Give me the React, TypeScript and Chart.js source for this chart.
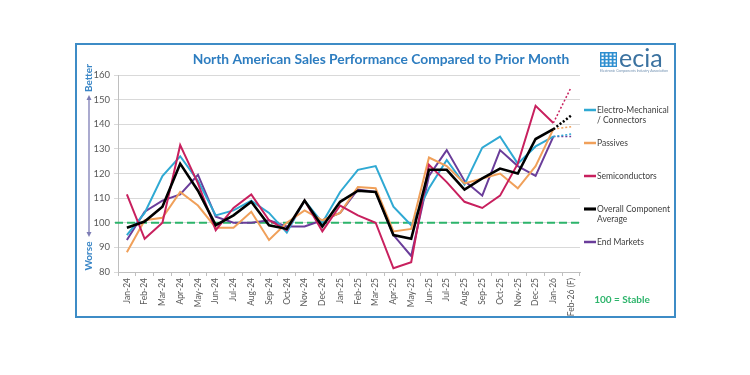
import { useEffect, useRef } from "react";
import { Chart, registerables } from "chart.js";

Chart.register(...registerables);

const months = [
  "Jan-24", "Feb-24", "Mar-24", "Apr-24", "May-24", "Jun-24", "Jul-24", "Aug-24",
  "Sep-24", "Oct-24", "Nov-24", "Dec-24", "Jan-25", "Feb-25", "Mar-25", "Apr-25",
  "May-25", "Jun-25", "Jul-25", "Aug-25", "Sep-25", "Oct-25", "Nov-25", "Dec-25",
  "Jan-26", "Feb-26 (F)",
];

const electroMechanical = [95, 104, 119, 127, 117, 103, 105, 109, 104, 96, 109, 100, 112.5, 121.5, 123, 106.5, 99, 114, 125.5, 115.5, 130.5, 135, 124, 131, 135, 136];
const passives = [88, 101, 102, 112.5, 107, 98, 98, 104.5, 93, 100, 105, 101, 104, 114.5, 114, 96.5, 97.5, 126.5, 123, 116, 118, 120, 114, 123, 138, 139];
const semiconductors = [111.5, 93.5, 100, 131.5, 116, 97, 106, 111.5, 101, 97, 109, 96.5, 107, 103, 100, 81.5, 84, 123.5, 116.5, 108.5, 106, 111, 124, 147.5, 140.5, 155];
const overallAverage = [98, 100.5, 106.5, 124, 113, 99, 103, 108.5, 99, 97.5, 109, 98.5, 108.5, 113, 112.5, 95, 93.5, 121.5, 121.5, 113.5, 118, 122, 120, 134, 138, 143.5];
const endMarkets = [93, 104.5, 109, 111.5, 119.5, 102.5, 100, 100, 101, 98.5, 98.5, 101, 104, 113.5, 112.5, 95, 86.5, 119, 129.5, 117, 111, 129.5, 123, 119, 135, 135];

const seriesNames = ["Electro-Mechanical\n/ Connectors", "Passives", "Semiconductors", "Overall Component\nAverage", "End Markets"];
const seriesColors = ["#2FA9D3", "#F0A05A", "#C8205E", "#000000", "#6A3D9A"];
const seriesData = [electroMechanical, passives, semiconductors, overallAverage, endMarkets];
const seriesWidths = [2, 2, 2, 2.6, 2];
const seriesOrder = [3, 2, 1, 0, 4];

const TITLE = "North American Sales Performance Compared to Prior Month";
const STABLE_VALUE = 100;
const STABLE_LABEL = "100 = Stable";
const Y_MIN = 80;
const Y_MAX = 160;
const Y_STEP = 10;
const BETTER = "Better";
const WORSE = "Worse";
const LOGO_TEXT = "ecia";
const LOGO_SUB = "Electronic Components Industry Association";

const FONT = "Lato, 'Liberation Sans', sans-serif";

const decorPlugin = {
  id: "decor",
  beforeDatasetsDraw(chart: any) {
    const { ctx, chartArea, scales } = chart;
    const y = scales.y.getPixelForValue(STABLE_VALUE);
    ctx.save();
    ctx.strokeStyle = "#2DB46B";
    ctx.lineWidth = 2.2;
    ctx.setLineDash([8, 4]);
    ctx.beginPath();
    ctx.moveTo(chartArea.left - 3, y);
    ctx.lineTo(chartArea.right, y);
    ctx.stroke();
    ctx.restore();
  },
  afterDraw(chart: any) {
    const { ctx } = chart;
    ctx.save();
    // frame
    ctx.strokeStyle = "#3D8CC6";
    ctx.lineWidth = 2;
    ctx.strokeRect(76, 44, 599, 273);

    // title
    ctx.fillStyle = "#2D7DC0";
    ctx.font = `bold 13.8px ${FONT}`;
    ctx.textAlign = "center";
    ctx.textBaseline = "middle";
    ctx.fillText(TITLE, 381, 60);

    // logo
    ctx.fillStyle = "#2E8FD0";
    ctx.fillRect(600, 52, 17, 15);
    ctx.fillStyle = "#ffffff";
    for (let r = 0; r < 4; r++) {
      for (let c = 0; c < 4; c++) {
        ctx.fillRect(601.5 + c * 4, 53.5 + r * 3.4, 2.2, 2);
      }
    }
    ctx.fillStyle = "#3B72A0";
    ctx.font = `25px ${FONT}`;
    ctx.textAlign = "left";
    ctx.textBaseline = "alphabetic";
    ctx.fillText(LOGO_TEXT, 619, 67);
    ctx.fillStyle = "#6f8fb0";
    ctx.font = `3.5px ${FONT}`;
    ctx.fillText(LOGO_SUB, 600, 72);

    // Better / Worse
    ctx.fillStyle = "#3A86C6";
    ctx.font = `bold 10px ${FONT}`;
    ctx.textAlign = "center";
    ctx.textBaseline = "middle";
    ctx.save();
    ctx.translate(89, 78);
    ctx.rotate(-Math.PI / 2);
    ctx.fillText(BETTER, 0, 0);
    ctx.restore();
    ctx.save();
    ctx.translate(89, 256);
    ctx.rotate(-Math.PI / 2);
    ctx.fillText(WORSE, 0, 0);
    ctx.restore();
    ctx.strokeStyle = "#7D7DB5";
    ctx.fillStyle = "#7D7DB5";
    ctx.lineWidth = 1.3;
    ctx.beginPath();
    ctx.moveTo(89, 99);
    ctx.lineTo(89, 233);
    ctx.stroke();
    ctx.beginPath();
    ctx.moveTo(89, 95);
    ctx.lineTo(86.5, 100);
    ctx.lineTo(91.5, 100);
    ctx.closePath();
    ctx.fill();
    ctx.beginPath();
    ctx.moveTo(89, 237);
    ctx.lineTo(86.5, 232);
    ctx.lineTo(91.5, 232);
    ctx.closePath();
    ctx.fill();

    // legend
    const legendY = [110, 143, 176, 209, 242];
    ctx.font = `8.5px ${FONT}`;
    ctx.textAlign = "left";
    ctx.textBaseline = "middle";
    seriesNames.forEach((name, i) => {
      const ly = legendY[i];
      ctx.strokeStyle = seriesColors[i];
      ctx.lineWidth = seriesWidths[i] + 0.5;
      ctx.setLineDash([]);
      ctx.beginPath();
      ctx.moveTo(584, ly);
      ctx.lineTo(596, ly);
      ctx.stroke();
      ctx.fillStyle = "#404040";
      name.split("\n").forEach((line, j) => {
        ctx.fillText(line, 597, ly + j * 10.5);
      });
    });

    // stable label
    ctx.fillStyle = "#2DB46B";
    ctx.font = `bold 10px ${FONT}`;
    ctx.textAlign = "center";
    ctx.fillText(STABLE_LABEL, 622, 300);
    ctx.restore();
  },
};

export default function App() {
  const canvasRef = useRef<HTMLCanvasElement | null>(null);

  useEffect(() => {
    if (!canvasRef.current) return;
    const lastIdx = months.length - 1;
    const chart = new Chart(canvasRef.current, {
      type: "line",
      data: {
        labels: months,
        datasets: seriesData.map((data, i) => ({
          label: seriesNames[i].replace("\n", " "),
          data,
          borderColor: seriesColors[i],
          backgroundColor: seriesColors[i],
          borderWidth: seriesWidths[i],
          pointRadius: 0,
          tension: 0,
          fill: false,
          order: seriesOrder[i],
          segment: {
            borderDash: (ctx: any) => (ctx.p1DataIndex === lastIdx ? [2, 2] : undefined),
            borderWidth: (ctx: any) => (ctx.p1DataIndex === lastIdx ? (i === 3 ? 2.5 : 1.5) : undefined),
          },
        })),
      },
      options: {
        responsive: false,
        maintainAspectRatio: false,
        animation: false,
        layout: { padding: { left: 76, right: 170, top: 75, bottom: 55 } },
        plugins: {
          legend: { display: false },
          tooltip: { enabled: false },
          title: { display: false },
        },
        scales: {
          x: {
            type: "category",
            offset: true,
            grid: { offset: true, drawOnChartArea: false, tickLength: 4, color: "#BFBFBF" },
            border: { color: "#BFBFBF" },
            ticks: {
              autoSkip: false,
              maxRotation: 90,
              minRotation: 90,
              padding: 2,
              color: "#595959",
              font: { size: 8.5, family: FONT },
            },
            afterFit: (s: any) => {
              s.height = 48;
            },
          },
          y: {
            min: Y_MIN,
            max: Y_MAX,
            ticks: { stepSize: Y_STEP, color: "#595959", padding: 4, font: { size: 9.5, family: FONT } },
            grid: { color: "#D9D9D9", tickLength: 4 },
            border: { color: "#BFBFBF" },
            afterFit: (s: any) => {
              s.width = 42;
            },
          },
        },
      },
      plugins: [decorPlugin],
    } as any);
    return () => chart.destroy();
  }, []);

  return (
    <div style={{ position: "absolute", left: 0, top: 0, width: 750, height: 375, background: "#fff" }}>
      <canvas ref={canvasRef} width={750} height={375} style={{ display: "block" }} />
    </div>
  );
}
